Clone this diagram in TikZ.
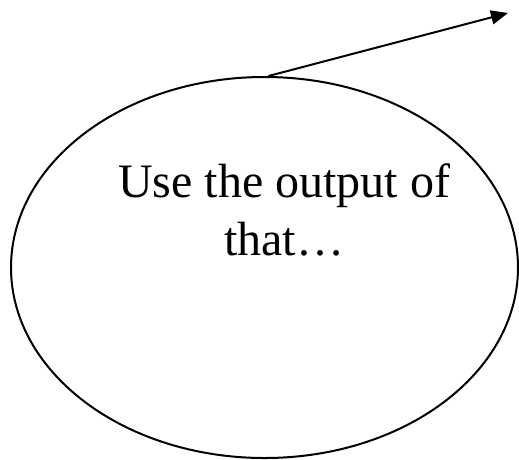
\documentclass[tikz,border=0pt]{standalone}
\usepackage{fontspec}
\setmainfont{Liberation Serif}
\usetikzlibrary{shapes.geometric,arrows.meta}
\begin{document}
\begin{tikzpicture}[x=1pt,y=-1pt,
  bubble/.style={draw,ellipse,line width=2pt,inner sep=0pt,minimum width=507pt,minimum height=381pt},
  label/.style={align=center,font=\fontsize{48}{58}\selectfont,inner sep=0pt},
  link/.style={line width=2pt,-{Triangle[length=17pt,width=14pt]}}]
\useasboundingbox (0,0) rectangle (519,459);
\node[bubble] (e) at (264.5,267.5) {};
\node[label,anchor=base] (t) at (284,255) {Use the output of\\that…};
\coordinate (tip) at (508,13);
\draw[link] (e.north) ++(4,0) coordinate (s) -- (tip);
\end{tikzpicture}
\end{document}
